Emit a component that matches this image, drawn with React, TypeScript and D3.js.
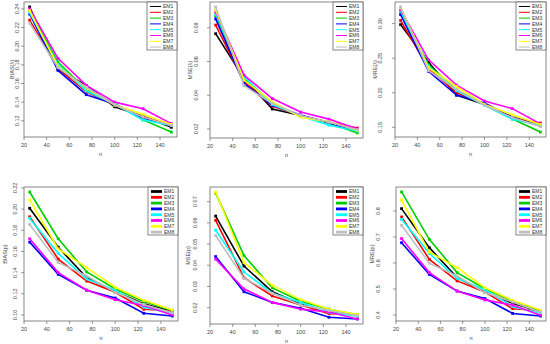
import React, { useRef, useEffect } from "react";
import * as d3 from "d3";

// sample sizes on the x axis
const sampleSizes = [25, 50, 75, 100, 125, 150];
const methods = ["EM1", "EM2", "EM3", "EM4", "EM5", "EM6", "EM7", "EM8"];
const methodColors = ["#000000", "#ff0000", "#00cd00", "#0000ff", "#00ffff", "#ff00ff", "#ffff00", "#bebebe"];
const xTicks = [20, 40, 60, 80, 100, 120, 140];

// one row per method, one value per sample size
const biasLambda = [
  [0.242, 0.175, 0.158, 0.135, 0.125, 0.113],
  [0.228, 0.176, 0.151, 0.137, 0.124, 0.116],
  [0.238, 0.183, 0.153, 0.138, 0.121, 0.108],
  [0.2345, 0.174, 0.148, 0.138, 0.123, 0.115],
  [0.236, 0.18, 0.152, 0.138, 0.121, 0.115],
  [0.24, 0.187, 0.158, 0.14, 0.133, 0.117],
  [0.238, 0.178, 0.155, 0.137, 0.127, 0.116],
  [0.2246, 0.177, 0.156, 0.137, 0.124, 0.115],
];
const mseLambda = [
  [0.0765, 0.05, 0.0318, 0.028, 0.024, 0.019],
  [0.0816, 0.048, 0.0335, 0.0278, 0.0238, 0.0205],
  [0.087, 0.0505, 0.035, 0.0275, 0.0235, 0.0176],
  [0.0853, 0.047, 0.034, 0.0282, 0.0235, 0.019],
  [0.088, 0.051, 0.0345, 0.0277, 0.0222, 0.0188],
  [0.0894, 0.0519, 0.038, 0.03, 0.0258, 0.02],
  [0.0905, 0.049, 0.036, 0.027, 0.0242, 0.0192],
  [0.0923, 0.0457, 0.035, 0.028, 0.024, 0.0195],
];
const mreLambda = [
  [0.2985, 0.244, 0.1966, 0.183, 0.165, 0.153],
  [0.3045, 0.235, 0.2, 0.184, 0.163, 0.1563],
  [0.3165, 0.24, 0.204, 0.183, 0.162, 0.1432],
  [0.313, 0.231, 0.1966, 0.185, 0.164, 0.152],
  [0.318, 0.238, 0.203, 0.182, 0.1617, 0.153],
  [0.32, 0.2476, 0.211, 0.188, 0.177, 0.155],
  [0.323, 0.236, 0.209, 0.183, 0.168, 0.154],
  [0.324, 0.232, 0.205, 0.182, 0.164, 0.151],
];
const biasP = [
  [0.2008, 0.164, 0.1352, 0.122, 0.1106, 0.1032],
  [0.1928, 0.1528, 0.132, 0.1214, 0.1054, 0.1038],
  [0.2162, 0.172, 0.1406, 0.1246, 0.1128, 0.1042],
  [0.1688, 0.1384, 0.1234, 0.116, 0.1016, 0.099],
  [0.1912, 0.1582, 0.134, 0.1235, 0.1074, 0.1015],
  [0.172, 0.14, 0.1234, 0.1144, 0.109, 0.1],
  [0.2088, 0.1624, 0.1448, 0.1262, 0.1138, 0.1048],
  [0.1854, 0.1496, 0.1368, 0.1214, 0.11, 0.102],
];
const mseP = [
  [0.0632, 0.0396, 0.0275, 0.0217, 0.018, 0.0163],
  [0.0612, 0.0341, 0.0255, 0.0213, 0.0172, 0.0168],
  [0.074, 0.0446, 0.0293, 0.023, 0.0193, 0.0167],
  [0.0441, 0.0275, 0.0225, 0.0197, 0.0155, 0.0147],
  [0.0565, 0.0368, 0.0268, 0.0225, 0.0178, 0.016],
  [0.0429, 0.0288, 0.0225, 0.0193, 0.018, 0.0147],
  [0.0745, 0.0413, 0.0305, 0.0238, 0.0193, 0.0168],
  [0.054, 0.0338, 0.0268, 0.0213, 0.0187, 0.0162],
];
const mreP = [
  [0.809, 0.659, 0.544, 0.488, 0.445, 0.413],
  [0.777, 0.614, 0.531, 0.488, 0.424, 0.417],
  [0.873, 0.691, 0.563, 0.501, 0.453, 0.417],
  [0.678, 0.556, 0.492, 0.463, 0.406, 0.396],
  [0.768, 0.637, 0.541, 0.497, 0.432, 0.408],
  [0.694, 0.563, 0.492, 0.458, 0.438, 0.399],
  [0.842, 0.642, 0.582, 0.505, 0.456, 0.419],
  [0.745, 0.599, 0.55, 0.486, 0.45, 0.411],
];

const yTicksBiasLambda = [0.12, 0.14, 0.16, 0.18, 0.2, 0.22, 0.24];
const yTicksMseLambda = [0.02, 0.04, 0.06, 0.08];
const yTicksMreLambda = [0.15, 0.2, 0.25, 0.3];
const yTicksBiasP = [0.1, 0.12, 0.14, 0.16, 0.18, 0.2, 0.22];
const yTicksMseP = [0.02, 0.03, 0.04, 0.05, 0.06, 0.07];
const yTicksMreP = [0.4, 0.5, 0.6, 0.7, 0.8];

const panels = [
  { label: "BIAS(\u03bb)", data: biasLambda, yTicks: yTicksBiasLambda, fmt: ".2f", box: [24, 177, 2, 137], tickOff: 7, labOff: 12, lw: 1 },
  { label: "MSE(\u03bb)", data: mseLambda, yTicks: yTicksMseLambda, fmt: ".2f", box: [210, 363, 2, 138], tickOff: 14, labOff: 20, lw: 1 },
  { label: "MRE(\u03bb)", data: mreLambda, yTicks: yTicksMreLambda, fmt: ".2f", box: [395, 546, 2, 137], tickOff: 15, labOff: 20, lw: 1 },
  { label: "BIAS(p)", data: biasP, yTicks: yTicksBiasP, fmt: ".2f", box: [24, 178, 187, 321], tickOff: 9, labOff: 19, lw: 2.8 },
  { label: "MSE(p)", data: mseP, yTicks: yTicksMseP, fmt: ".2f", box: [210, 363, 187, 324], tickOff: 15, labOff: 22, lw: 2.8 },
  { label: "MRE(p)", data: mreP, yTicks: yTicksMreP, fmt: ".1f", box: [396, 546, 187, 321], tickOff: 18, labOff: 24, lw: 2.8 },
];

const FONT = "'Liberation Sans', Arial, sans-serif";

const App = () => {
  const ref = useRef<SVGSVGElement>(null);

  useEffect(() => {
    const svg = d3.select(ref.current);
    svg.selectAll("*").remove();

    panels.forEach((p) => {
      const [x0, x1, y0, y1] = p.box;
      const g = svg.append("g");

      // R style axis extension: 4% on both sides
      const x = d3.scaleLinear().domain([20, 155]).range([x0, x1]);
      const all = p.data.flat();
      const lo = d3.min(all) as number;
      const hi = d3.max(all) as number;
      const pad = (hi - lo) * 0.04;
      const y = d3.scaleLinear().domain([lo - pad, hi + pad]).range([y1, y0]);
      const fmt = d3.format(p.fmt);

      // x ticks
      g.selectAll(".xt")
        .data(xTicks)
        .enter()
        .append("line")
        .attr("x1", (d) => x(d))
        .attr("x2", (d) => x(d))
        .attr("y1", y1)
        .attr("y2", y1 + 3)
        .attr("stroke", "#555")
        .attr("stroke-width", 0.6);
      g.selectAll(".xl")
        .data(xTicks)
        .enter()
        .append("text")
        .attr("x", (d) => x(d))
        .attr("y", y1 + 10)
        .attr("text-anchor", "middle")
        .style("font-size", "5.5px")
        .style("font-family", FONT)
        .style("fill", "#444")
        .text((d) => d);
      g.append("text")
        .attr("x", (x0 + x1) / 2)
        .attr("y", y1 + 19)
        .attr("text-anchor", "middle")
        .style("font-size", "5.5px")
        .style("font-family", FONT)
        .style("fill", "#444")
        .text("n");

      // y ticks
      g.selectAll(".yt")
        .data(p.yTicks)
        .enter()
        .append("line")
        .attr("x1", x0)
        .attr("x2", x0 - 3)
        .attr("y1", (d) => y(d))
        .attr("y2", (d) => y(d))
        .attr("stroke", "#555")
        .attr("stroke-width", 0.6);
      g.selectAll(".yl")
        .data(p.yTicks)
        .enter()
        .append("text")
        .attr("transform", (d) => `translate(${x0 - p.tickOff + 2},${y(d)}) rotate(-90)`)
        .attr("text-anchor", "middle")
        .style("font-size", "5.5px")
        .style("font-family", FONT)
        .style("fill", "#444")
        .text((d) => fmt(d));
      g.append("text")
        .attr("transform", `translate(${x0 - p.labOff + 2},${(y0 + y1) / 2}) rotate(-90)`)
        .attr("text-anchor", "middle")
        .style("font-size", "5.5px")
        .style("font-family", FONT)
        .style("fill", "#444")
        .text(p.label);

      // series
      const line = d3
        .line<number>()
        .x((d, i) => x(sampleSizes[i]))
        .y((d) => y(d));
      p.data.forEach((vals, k) => {
        g.append("path")
          .attr("d", line(vals))
          .attr("fill", "none")
          .attr("stroke", methodColors[k])
          .attr("stroke-width", 1.6);
        g.selectAll(`.pt${k}`)
          .data(vals)
          .enter()
          .append("rect")
          .attr("x", (d, i) => x(sampleSizes[i]) - 1.4)
          .attr("y", (d) => y(d) - 1.4)
          .attr("width", 2.8)
          .attr("height", 2.8)
          .attr("fill", methodColors[k]);
      });

      // plot box
      g.append("rect")
        .attr("x", x0)
        .attr("y", y0)
        .attr("width", x1 - x0)
        .attr("height", y1 - y0)
        .attr("fill", "none")
        .attr("stroke", "#555")
        .attr("stroke-width", 0.7);

      // legend, top right corner
      const lw = 30;
      const lh = 48;
      const lg = g.append("g").attr("transform", `translate(${x1 - lw},${y0})`);
      lg.append("rect")
        .attr("width", lw)
        .attr("height", lh)
        .attr("fill", "white")
        .attr("stroke", "#555")
        .attr("stroke-width", 0.7);
      methods.forEach((m, k) => {
        const cy = 4.5 + k * 5.8;
        lg.append("line")
          .attr("x1", 3)
          .attr("x2", 14)
          .attr("y1", cy)
          .attr("y2", cy)
          .attr("stroke", methodColors[k])
          .attr("stroke-width", p.lw);
        lg.append("text")
          .attr("x", 16)
          .attr("y", cy + 1.8)
          .style("font-size", "5px")
          .style("font-family", FONT)
          .style("fill", "#333")
          .text(m);
      });
    });
  }, []);

  return (
    <svg
      ref={ref}
      width={550}
      height={344}
      style={{ position: "absolute", left: 0, top: 0, background: "white" }}
    />
  );
};

export default App;
